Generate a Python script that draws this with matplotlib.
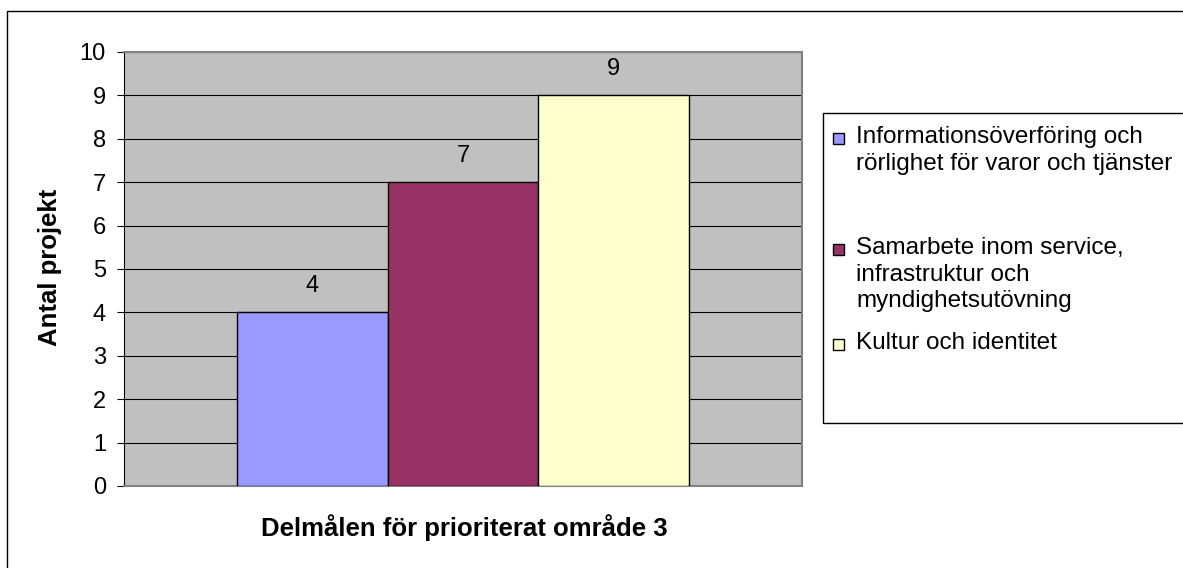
import matplotlib
matplotlib.use("Agg")
import matplotlib.pyplot as plt
from matplotlib.patches import Rectangle

plt.rcParams['font.family'] = ['Liberation Sans', 'DejaVu Sans']

# data
serier = ["Informationsöverföring och\nrörlighet för varor och tjänster",
          "Samarbete inom service,\ninfrastruktur och\nmyndighetsutövning",
          "Kultur och identitet"]
antal = [4, 7, 9]
farger = ["#9999FF", "#993366", "#FFFFCC"]
y_ticks = list(range(0, 11))
x_titel = "Delmålen för prioriterat område 3"
y_titel = "Antal projekt"

W, H = 1183, 568
fig = plt.figure(figsize=(W / 100, H / 100), dpi=100)


def fx(px):
    return px / W


def fy(py):
    return 1 - py / H


# ram runt hela figuren (skuren i höger/nederkant som i originalet)
fig.add_artist(Rectangle((fx(7), -0.2), 1.5, fy(11) + 0.2, transform=fig.transFigure,
                         fill=False, edgecolor="black", linewidth=1.0))

ax = fig.add_axes([fx(124), fy(486), (802 - 124) / W, (486 - 52) / H])
ax.set_facecolor("#C0C0C0")
pos = [i - (len(antal) - 1) / 2 for i in range(len(antal))]
staplar = ax.bar(pos, antal, width=1.0, color=farger, edgecolor="black", linewidth=1.0, zorder=3)
for p, v in zip(pos, antal):
    ax.annotate(str(v), (p, v), xytext=(0, 14.5), textcoords="offset points",
                ha="center", va="baseline", fontsize=17)

ax.set_xlim(-2.25, 2.25)
ax.set_ylim(0, 10)
ax.set_yticks(y_ticks)
ax.set_xticks([])
ax.tick_params(axis='y', direction='out', length=5, width=0.8, pad=8, labelsize=17)
ax.yaxis.grid(True, color="black", linewidth=0.8)
ax.set_axisbelow(True)
for s in ['top', 'right', 'bottom']:
    ax.spines[s].set_color("#808080")
    ax.spines[s].set_linewidth(1.5)
ax.spines['left'].set_color("black")
ax.spines['left'].set_linewidth(0.8)

fig.text(fx(50), fy(267), y_titel, rotation=90, ha="center", va="center",
         fontsize=18.5, fontweight="bold")
fig.text(fx(464), fy(536), x_titel, ha="center", va="baseline",
         fontsize=18.5, fontweight="bold")

# legend ritad för hand (ojämna avstånd som i originalet)
fig.add_artist(Rectangle((fx(823), fy(423)), 1.0, (423 - 113) / H, transform=fig.transFigure,
                         fill=False, edgecolor="black", linewidth=1.0))
forsta_baslinje = [143, 254, 349]
radavstand = 26.7
for namn, farg, b0 in zip(serier, farger, forsta_baslinje):
    fig.add_artist(Rectangle((fx(833), fy(b0 + 1)), 11 / W, 11 / H, transform=fig.transFigure,
                             facecolor=farg, edgecolor="black", linewidth=1.0))
    for k, rad in enumerate(namn.split("\n")):
        fig.text(fx(856), fy(b0 + k * radavstand), rad, ha="left", va="baseline", fontsize=17.5)

fig.savefig("out.png", dpi=100)
